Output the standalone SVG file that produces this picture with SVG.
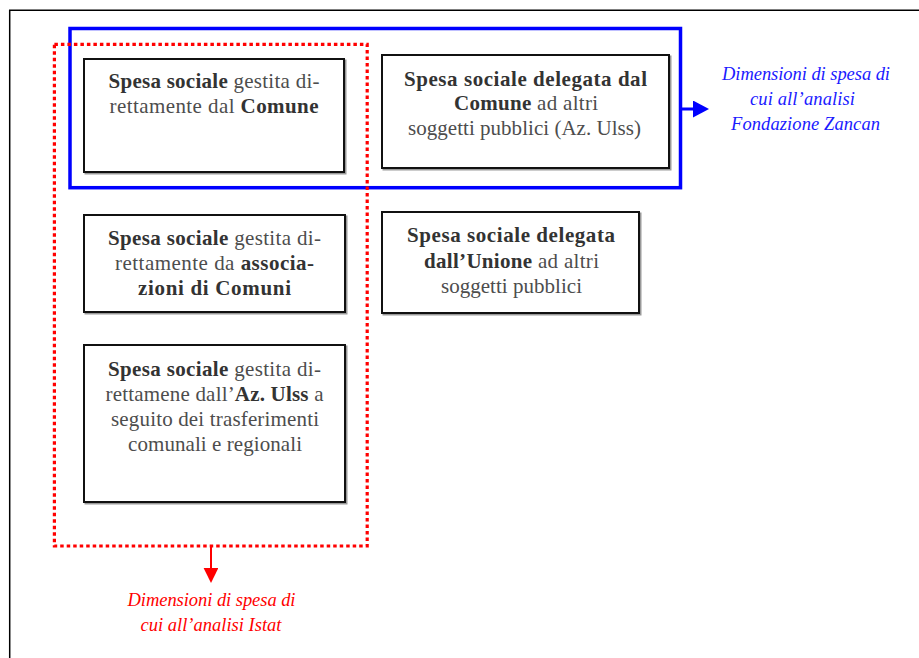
<svg xmlns="http://www.w3.org/2000/svg" width="919" height="658" viewBox="0 0 919 658">
<style>
.box{fill:#fff;stroke:#111;stroke-width:2}
.shadow{fill:none;stroke:#999;stroke-width:2}
.t{font-family:"Liberation Serif","Times New Roman",serif;font-size:21px;fill:#4d4d4d;text-anchor:middle}
.b{font-weight:bold;fill:#333}
.lab{font-family:"Liberation Serif","Times New Roman",serif;font-size:18.5px;font-style:italic;text-anchor:middle}
</style>
<defs>
<marker id="ahb" markerUnits="userSpaceOnUse" markerWidth="16" markerHeight="17" refX="0" refY="8.5" orient="auto">
<path d="M0,0 L16,8.5 L0,17 Z" fill="#0000ff"/>
</marker>
<marker id="ahr" markerUnits="userSpaceOnUse" markerWidth="15" markerHeight="15" refX="0" refY="7.4" orient="auto">
<path d="M0,0 L15,7.4 L0,14.8 Z" fill="#ff0000"/>
</marker>
</defs>
<rect width="919" height="658" fill="#fff"/>
<g id="frame" fill="none" stroke="#000" stroke-width="1.5">
<path d="M9.7,658 V10.3 H919"/>
</g>
<g id="n1">
<rect class="shadow" x="85.5" y="60.5" width="260" height="113"/>
<rect class="box" x="84" y="59" width="260" height="113"/>
<text class="t" x="214" y="88.3" textLength="211" lengthAdjust="spacing"><tspan class="b">Spesa sociale</tspan> gestita di-</text>
<text class="t" x="214" y="112.7" textLength="209" lengthAdjust="spacing">rettamente dal <tspan class="b">Comune</tspan></text>
</g>
<g id="n2">
<rect class="shadow" x="383.5" y="56.5" width="287" height="113"/>
<rect class="box" x="382" y="55" width="287" height="113"/>
<text class="t" x="525.5" y="85.8" textLength="243" lengthAdjust="spacing"><tspan class="b">Spesa sociale delegata dal</tspan></text>
<text class="t" x="526" y="110.3" textLength="144" lengthAdjust="spacing"><tspan class="b">Comune</tspan> ad altri</text>
<text class="t" x="524.5" y="134.8" textLength="233" lengthAdjust="spacing">soggetti pubblici (Az. Ulss)</text>
</g>
<g id="n3">
<rect class="shadow" x="85.5" y="216.5" width="261" height="97"/>
<rect class="box" x="84" y="215" width="261" height="97"/>
<text class="t" x="214.5" y="245" textLength="213" lengthAdjust="spacing"><tspan class="b">Spesa sociale</tspan> gestita di-</text>
<text class="t" x="214.5" y="270" textLength="199" lengthAdjust="spacing">rettamente da <tspan class="b">associa-</tspan></text>
<text class="t" x="214.5" y="295" textLength="153" lengthAdjust="spacing"><tspan class="b">zioni di Comuni</tspan></text>
</g>
<g id="n4">
<rect class="shadow" x="383.5" y="213.5" width="257" height="101"/>
<rect class="box" x="382" y="212" width="257" height="101"/>
<text class="t" x="511" y="242.3" textLength="208" lengthAdjust="spacing"><tspan class="b">Spesa sociale delegata</tspan></text>
<text class="t" x="511.5" y="267.7" textLength="175" lengthAdjust="spacing"><tspan class="b">dall’Unione</tspan> ad altri</text>
<text class="t" x="511.5" y="292.7" textLength="141" lengthAdjust="spacing">soggetti pubblici</text>
</g>
<g id="n5">
<rect class="shadow" x="85.5" y="346.5" width="261" height="157"/>
<rect class="box" x="84" y="345" width="261" height="157"/>
<text class="t" x="214.5" y="375.7" textLength="213" lengthAdjust="spacing"><tspan class="b">Spesa sociale</tspan> gestita di-</text>
<text class="t" x="214.5" y="400.7" textLength="218" lengthAdjust="spacing">rettamene dall’<tspan class="b">Az. Ulss</tspan> a</text>
<text class="t" x="215" y="425.7" textLength="208" lengthAdjust="spacing">seguito dei trasferimenti</text>
<text class="t" x="215" y="450.7" textLength="174" lengthAdjust="spacing">comunali e regionali</text>
</g>
<g id="blue-group">
<rect x="70" y="28.5" width="610.5" height="159.2" fill="none" stroke="#0000ff" stroke-width="3.5"/>
</g>
<g id="red-group">
<rect x="54.4" y="44.3" width="312.8" height="501.7" fill="none" stroke="#ff0000" stroke-width="3.2" stroke-dasharray="3.5 3"/>
</g>
<g id="connectors">
<line x1="682" y1="109" x2="693" y2="109" stroke="#0000ff" stroke-width="3" marker-end="url(#ahb)"/>
<line x1="211" y1="547" x2="211" y2="568" stroke="#ff0000" stroke-width="2" marker-end="url(#ahr)"/>
</g>
<g id="label-blue" fill="#1a1aff">
<text class="lab" x="806" y="80" textLength="168" lengthAdjust="spacing">Dimensioni di spesa di</text>
<text class="lab" x="802.5" y="105" textLength="105" lengthAdjust="spacing">cui all’analisi</text>
<text class="lab" x="805.5" y="129.5" textLength="149" lengthAdjust="spacing">Fondazione Zancan</text>
</g>
<g id="label-red" fill="#ff0000">
<text class="lab" x="211.5" y="606" textLength="168" lengthAdjust="spacing">Dimensioni di spesa di</text>
<text class="lab" x="211" y="631" textLength="141" lengthAdjust="spacing">cui all’analisi Istat</text>
</g>
</svg>
